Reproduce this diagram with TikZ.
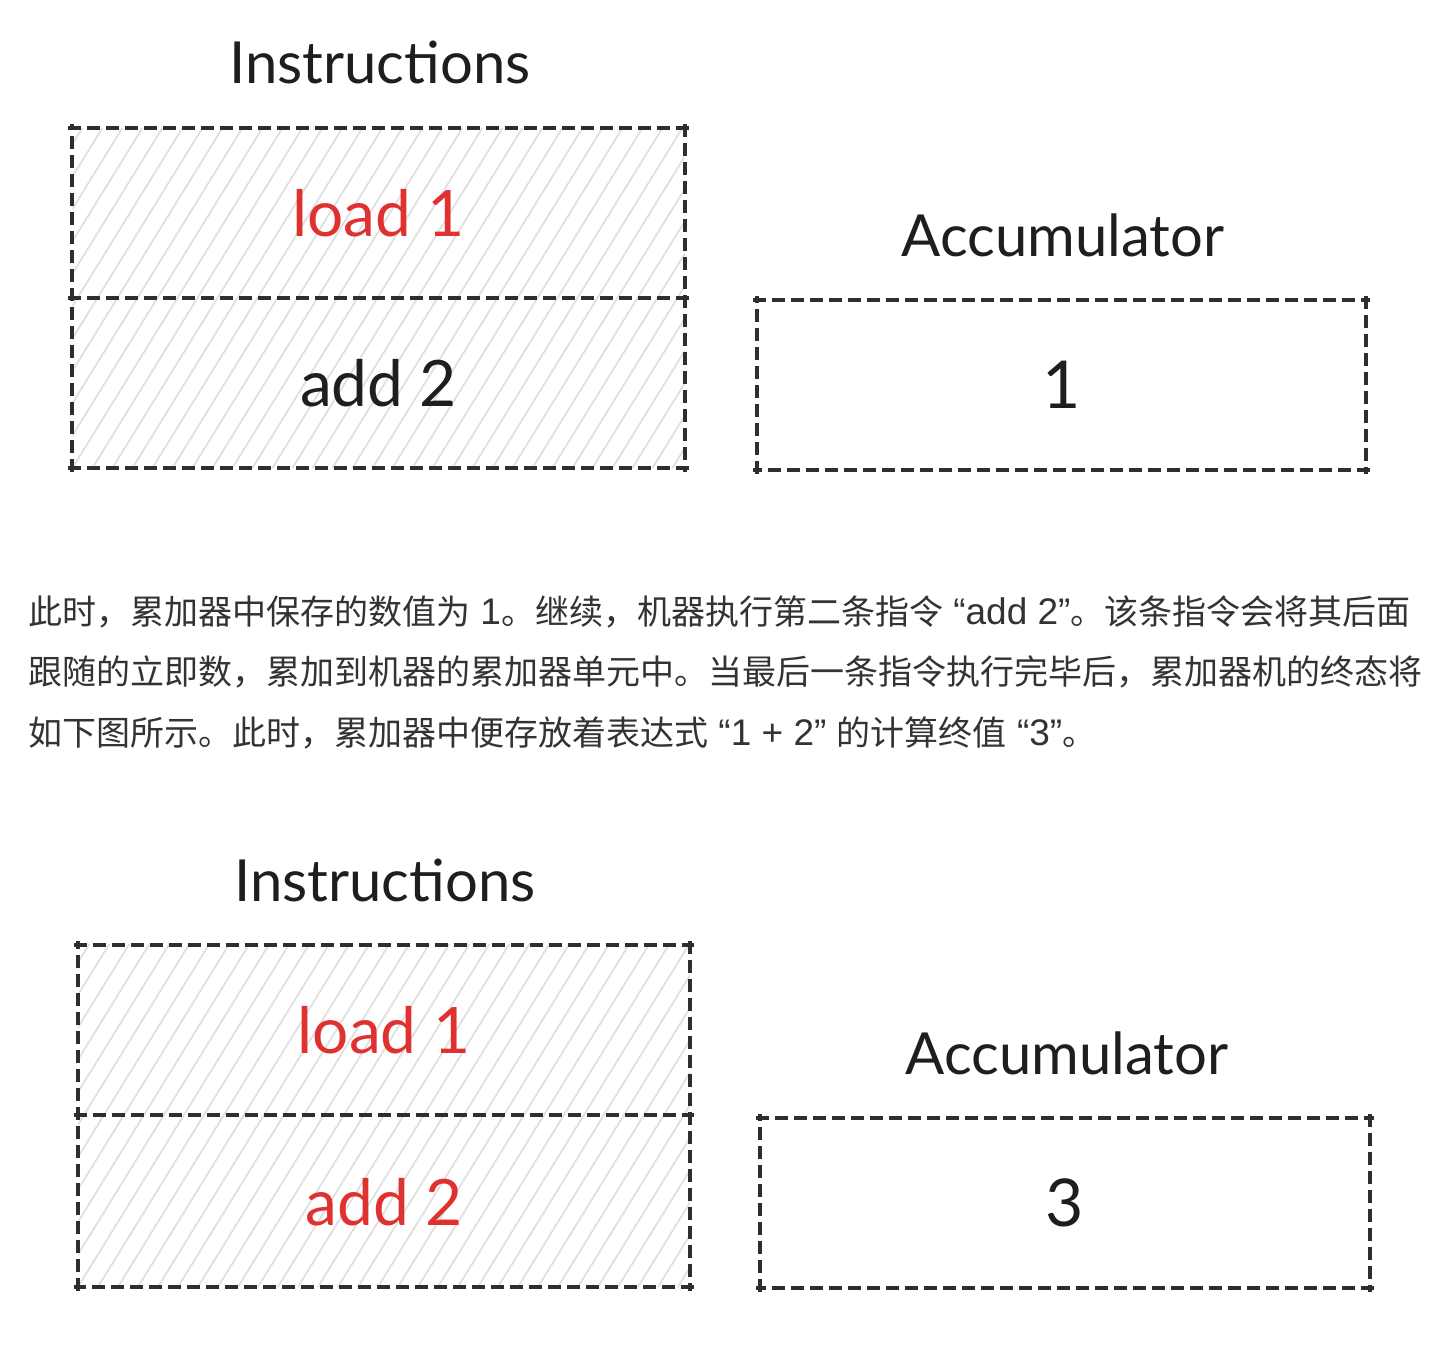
\documentclass[tikz,border=0pt]{standalone}
\usepackage{fontspec}
\setmainfont{Lato}
\newfontfamily\cjk{Noto Sans CJK SC}
\newfontfamily\lat{Liberation Sans}
\newcommand\latin[1]{{\lat\fontsize{37}{42}\selectfont #1}}
\usetikzlibrary{backgrounds}
\definecolor{ink}{HTML}{1E1E1E}
\definecolor{exred}{HTML}{E03131}
\definecolor{hatchc}{HTML}{E0E0E0}
\definecolor{para}{HTML}{333333}
\definecolor{edge}{HTML}{2E2E2E}
\begin{document}
\begin{tikzpicture}[x=1pt,y=-1pt,
  title/.style={font=\fontsize{58}{70}\selectfont, text=ink, inner sep=0pt},
  cell/.style={minimum width=612pt, minimum height=170pt, inner sep=0pt, font=\fontsize{64}{76}\selectfont, text=ink},
  acc/.style={minimum width=609pt, minimum height=170pt, inner sep=0pt, font=\fontsize{66}{78}\selectfont, text=ink},
  border/.style={draw=edge, line width=4.2pt, dash pattern=on 13pt off 6pt, shorten <=-4pt, shorten >=-4pt},
  hatch/.style={draw=hatchc, line width=1.8pt},
  paraline/.style={anchor=west, inner sep=0pt, text=para, font=\fontsize{34}{42}\selectfont\cjk}
]
\useasboundingbox (0,0) rectangle (1434,1370);

% ---------- top diagram ----------
\node[title] (instrA) at (380,62) {Instructions};
\node[cell, text=exred] (loadA) at (378.5,213) {load 1};
\node[cell] (addA) at (378.5,383) {add 2};
\node[title] (accTitleA) at (1063,235) {Accumulator};
\node[acc] (accA) at (1061.5,385) {1};

\draw[border] (loadA.north west) -- (loadA.north east);
\draw[border] (loadA.north east) -- (addA.south east);
\draw[border] (addA.south east) -- (addA.south west);
\draw[border] (addA.south west) -- (loadA.north west);
\draw[border] (loadA.south west) -- (loadA.south east);
\draw[border] (accA.north west) -- (accA.north east);
\draw[border] (accA.north east) -- (accA.south east);
\draw[border] (accA.south east) -- (accA.south west);
\draw[border] (accA.south west) -- (accA.north west);

% ---------- paragraph ----------
\node[paraline] (p1) at (28,612) {此时，累加器中保存的数值为\latin{\ 1}。继续，机器执行第二条指令\latin{\ “add 2”}。该条指令会将其后面};
\node[paraline] (p2) at (28,672) {跟随的立即数，累加到机器的累加器单元中。当最后一条指令执行完毕后，累加器机的终态将};
\node[paraline] (p3) at (28,733) {如下图所示。此时，累加器中便存放着表达式\latin{\ “1 + 2”\ }的计算终值\latin{\ “3”}。};

% ---------- bottom diagram ----------
\node[title] (instrB) at (385,880) {Instructions};
\node[cell, text=exred] (loadB) at (384,1030) {load 1};
\node[cell, text=exred] (addB) at (384,1202) {add 2};
\node[title] (accTitleB) at (1067,1053) {Accumulator};
\node[acc] (accB) at (1065,1203) {3};

\draw[border] (loadB.north west) -- (loadB.north east);
\draw[border] (loadB.north east) -- (addB.south east);
\draw[border] (addB.south east) -- (addB.south west);
\draw[border] (addB.south west) -- (loadB.north west);
\draw[border] (loadB.south west) -- (loadB.south east);
\draw[border] (accB.north west) -- (accB.north east);
\draw[border] (accB.north east) -- (accB.south east);
\draw[border] (accB.south east) -- (accB.south west);
\draw[border] (accB.south west) -- (accB.north west);

% ---------- background: white page and hachure ----------
\begin{scope}[on background layer]
  \fill[white] (0,0) rectangle (1434,1370);
  \begin{scope}
    \clip (loadA.north west) rectangle (addA.south east);
    \foreach \i in {-240,-220,...,640}
      \draw[hatch] ([xshift=\i pt]addA.south west) -- ++(210,-340);
  \end{scope}
  \begin{scope}
    \clip (loadB.north west) rectangle (addB.south east);
    \foreach \i in {-240,-220,...,640}
      \draw[hatch] ([xshift=\i pt]addB.south west) -- ++(212,-344);
  \end{scope}
\end{scope}
\end{tikzpicture}
\end{document}
